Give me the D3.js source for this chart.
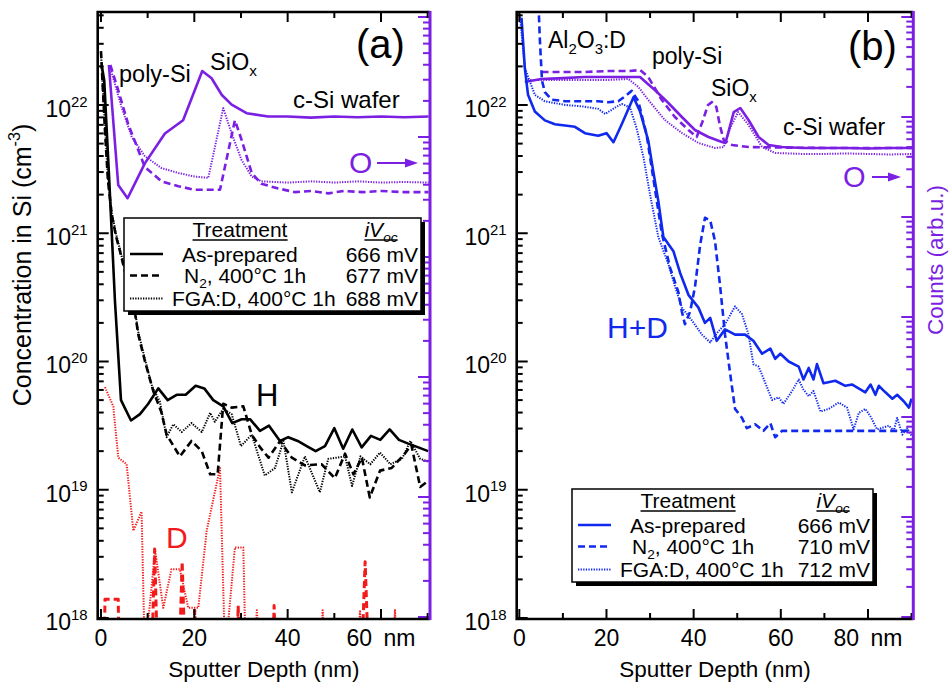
<!DOCTYPE html>
<html>
<head>
<meta charset="utf-8">
<script src="https://cdn.jsdelivr.net/npm/d3@7"></script>
<style>
  body { margin: 0; background: #fff; }
  svg { display: block; }
  text { font-family: 'Liberation Sans', Arial, Helvetica, sans-serif; }
</style>
</head>
<body>
<svg id="chart" width="949" height="684"></svg>
<script>
// ---- data: [depth (nm), concentration (cm^-3)] or [depth (nm), counts (arb.u.)] ----

// panel (a) : H (black), D (red), O (purple, right axis)
const aH_asPrepared = [[0.2,2.0e22],[0.7,1.55e22],[1.78,2.57e21],[3.0,2.95e20],[4.29,5.0e19],[6.43,3.47e19],[8.36,3.89e19],[10.13,4.68e19],[12.28,6.17e19],[14.29,5.0e19],[16.22,5.5e19],[18.15,5.5e19],[20.29,6.46e19],[22.13,6.17e19],[24.06,5.0e19],[26.2,4.47e19],[28.13,3.31e19],[30.15,3.55e19],[31.93,3.55e19],[34.07,2.88e19],[36.0,3.16e19],[38.36,2.4e19],[40.13,2.57e19],[42.15,2.4e19],[44.08,2.19e19],[46.0,2.0e19],[48.0,2.19e19],[50.0,3.02e19],[51.9,2.09e19],[53.85,2.95e19],[55.86,2.14e19],[57.85,2.63e19],[59.85,2.45e19],[61.86,2.95e19],[63.85,2.45e19],[65.85,2.29e19],[68.0,2.14e19],[70.1,2.0e19]];
const aH_N2 = [[0.0,2.63e22],[0.43,1.29e22],[0.86,6.31e21],[1.5,2.57e21],[2.29,1.41e21],[3.2,9.55e20],[4.07,7.24e20],[5.36,4.68e20],[6.92,2.95e20],[8.0,1.62e20],[9.43,1.0e20],[11.2,5.89e19],[12.9,4.07e19],[14.07,2.69e19],[16.9,1.82e19],[19.4,2.4e19],[21.6,2.0e19],[23.4,1.32e19],[25.0,1.32e19],[26.2,4.68e19],[28.0,4.37e19],[30.5,4.47e19],[32.3,2.69e19],[34.1,2.14e19],[35.9,1.78e19],[38.4,2.4e19],[40.9,1.78e19],[43.7,1.55e19],[47.3,1.58e19],[50.1,1.23e19],[52.3,1.91e19],[54.1,1.32e19],[55.9,1.78e19],[57.6,8.71e18],[59.8,1.41e19],[62.3,1.48e19],[65.1,1.91e19],[66.5,2.24e19],[68.4,1.05e19],[70.1,1.17e19]];
const aH_FGA = [[0.0,2.6e22],[0.4,1.35e22],[0.9,6.5e21],[1.5,2.7e21],[2.3,1.45e21],[3.2,1.0e21],[4.1,7.4e20],[5.4,4.8e20],[6.9,3.0e20],[8.0,1.7e20],[9.4,1.05e20],[11.0,6.3e19],[12.6,4.9e19],[14.07,2.57e19],[15.5,3.24e19],[17.3,2.82e19],[19.4,3.31e19],[21.6,2.82e19],[23.4,3.98e19],[24.4,3.39e19],[26.2,4.27e19],[28.0,3.89e19],[30.0,2.19e19],[32.3,2.69e19],[35.1,1.29e19],[37.3,1.48e19],[39.1,2.4e19],[40.9,9.55e18],[43.7,1.82e19],[46.9,9.55e18],[48.7,1.74e19],[52.3,1.82e19],[53.8,1.07e19],[55.6,1.82e19],[57.7,1.58e19],[59.8,1.95e19],[62.0,1.58e19],[64.5,1.74e19],[66.3,2.4e19],[68.4,1.74e19],[70.1,1.66e19]];
const aD_N2 = [[0.7,5e17],[0.86,1.4e18],[3.7,1.4e18],[3.86,5e17],[10.9,5e17],[11.5,3.45e18],[12.1,5e17],[16.8,5e17],[17.4,2.75e18],[18.0,5e17],[19.8,5e17],[20.1,1.15e18],[20.4,5e17],[29.1,5e17],[29.4,1.25e18],[29.7,5e17],[36.8,5e17],[37.1,1.25e18],[37.4,5e17],[55.9,5e17],[56.6,2.75e18],[57.3,5e17]];
const aD_FGA = [[0.86,6.31e19],[2.64,4.47e19],[3.71,1.78e19],[5.5,1.58e19],[6.93,4.79e18],[8.7,6.76e18],[9.4,5e17],[11.6,3.39e18],[13.35,1.2e18],[15.1,2.4e18],[16.9,2.4e18],[18.7,1.2e18],[20.85,1.2e18],[22.65,4.79e18],[25.5,1.48e19],[26.6,5e17],[28.7,3.55e18],[30.5,3.55e18],[31.0,5e17],[32.8,5e17],[33.4,1.15e18],[34.0,5e17],[47.0,5e17],[47.5,1.15e18],[48.0,5e17],[55.0,5e17],[55.5,1.15e18],[56.0,5e17],[62.5,5e17],[63.0,1.15e18],[63.5,5e17],[70.5,5e17]];
const aO_asPrepared = [[1.7,3.98e4],[3.7,3.98e3],[5.7,3.09e3],[9.4,6.03e3],[13.7,1.07e4],[17.6,1.38e4],[21.7,3.55e4],[23.7,3.09e4],[25.9,2.24e4],[28.0,1.86e4],[31.2,1.58e4],[35.8,1.48e4],[40,1.48e4],[45,1.45e4],[50,1.48e4],[55,1.46e4],[60,1.48e4],[65,1.46e4],[70.2,1.48e4]];
const aO_N2 = [[2.0,3.98e4],[3.7,2.45e4],[5.8,1.29e4],[9.4,5.62e3],[13.0,4.27e3],[16.6,3.89e3],[20.1,3.63e3],[25.5,3.63e3],[28.7,1.38e4],[30.1,9.55e3],[32.3,5.01e3],[34.4,4.07e3],[38.0,3.72e3],[41.6,3.47e3],[45,3.55e3],[48.7,3.39e3],[52,3.55e3],[56,3.47e3],[60,3.55e3],[65,3.47e3],[70.2,3.47e3]];
const aO_FGA = [[1.9,3.89e4],[4.4,1.78e4],[6.6,1.0e4],[9.4,6.92e3],[13,5.5e3],[16.6,5.01e3],[20.1,4.68e3],[23.0,4.57e3],[26.2,1.74e4],[28.0,1.07e4],[30.1,6.46e3],[32.3,4.68e3],[34.4,4.27e3],[40,4.17e3],[45,4.27e3],[50,4.17e3],[55,4.27e3],[60,4.17e3],[65,4.22e3],[70.2,4.17e3]];

// panel (b) : H+D (blue), O (purple, right axis)
const bHD_asPrepared = [[0.5,4.79e22],[1.26,1.95e22],[2.0,1.2e22],[3.56,8.91e21],[5.86,7.59e21],[8.16,7.08e21],[10.5,6.92e21],[12.76,6.76e21],[15.06,6.03e21],[18.1,5.75e21],[20.0,6.03e21],[21.6,5.13e21],[23.5,7.08e21],[26.2,1.15e22],[27.7,8.91e21],[29.6,5.25e21],[30.7,3.09e21],[31.9,1.78e21],[33.06,9.33e20],[35.36,7.24e20],[36.9,4.9e20],[38.8,3.31e20],[41.1,2.63e20],[42.6,2.0e20],[43.8,2.19e20],[45.3,1.45e20],[47.2,1.78e20],[49.5,1.62e20],[51.8,1.62e20],[53.7,1.45e20],[55.7,1.15e20],[57.6,1.26e20],[58.7,1.05e20],[59.9,1.15e20],[61.8,1.0e20],[64.1,9.12e19],[65.2,7.24e19],[66.4,8.91e19],[67.5,7.24e19],[68.3,9.55e19],[69.8,6.76e19],[72.5,7.08e19],[74.8,6.46e19],[76.4,6.61e19],[79.4,5.75e19],[80.6,6.61e19],[81.7,5.5e19],[82.5,6.46e19],[84.0,5.75e19],[85.6,5.13e19],[86.7,5.5e19],[88.2,4.9e19],[89.4,4.37e19],[90.0,5.13e19]];
const bHD_N2 = [[4.5,5.0e22],[4.7,3.31e22],[5.2,1.55e22],[5.86,1.26e22],[7.4,1.1e22],[10.5,1.07e22],[14.3,1.07e22],[18.1,1.07e22],[20.4,1.05e22],[22.7,1.07e22],[24.3,1.17e22],[25.8,1.29e22],[27.3,1.07e22],[29.2,5.89e21],[31.1,2.24e21],[32.7,1.0e21],[34.6,5.37e20],[36.5,3.47e20],[37.3,2.45e20],[38.0,1.95e20],[39.2,2.45e20],[40.3,3.8e20],[41.5,8.13e20],[42.6,1.32e21],[43.8,1.26e21],[44.9,8.71e20],[46.1,3.8e20],[47.2,1.62e20],[48.4,7.94e19],[49.5,4.27e19],[51.1,3.63e19],[52.2,3.02e19],[54.1,3.24e19],[56.0,2.88e19],[57.6,3.31e19],[58.7,2.57e19],[60.3,2.88e19],[70,2.88e19],[80,2.88e19],[90.2,2.88e19]];
const bHD_FGA = [[0.1,5.13e22],[1.26,1.95e22],[3.56,1.2e22],[5.86,1.07e22],[10.5,1.0e22],[14.3,9.77e21],[18.1,9.33e21],[19.7,8.51e21],[22.0,9.55e21],[23.5,1.02e22],[25.4,9.55e21],[26.9,6.61e21],[28.5,3.89e21],[30.0,2.0e21],[31.9,9.33e20],[34.2,5.75e20],[35.7,3.89e20],[37.3,2.63e20],[39.6,2.09e20],[41.9,1.62e20],[43.8,1.41e20],[45.3,1.66e20],[47.2,1.95e20],[49.5,2.69e20],[51.1,2.34e20],[52.6,1.62e20],[53.7,9.55e19],[54.9,9.12e19],[56.0,7.41e19],[58.0,5.01e19],[59.5,5.25e19],[60.6,4.68e19],[62.6,5.89e19],[64.1,7.24e19],[65.2,6.03e19],[66.4,5.37e19],[67.5,5.89e19],[69.1,4.07e19],[71.0,4.27e19],[73.3,4.79e19],[75.2,4.37e19],[76.7,2.95e19],[77.9,3.98e19],[79.4,4.27e19],[80.6,3.72e19],[82.1,2.95e19],[84.8,3.16e19],[85.9,2.88e19],[86.7,3.63e19],[87.9,2.69e19],[89.0,3.02e19],[90.0,2.63e19]];
const bO_asPrepared = [[1.26,2.24e5],[5,2.4e5],[10,2.45e5],[15,2.51e5],[20,2.51e5],[25,2.51e5],[27.7,2.51e5],[29.5,2.14e5],[31.1,1.86e5],[34.2,1.38e5],[37.3,1.0e5],[40.3,7.41e4],[43.4,6.31e4],[46.5,5.62e4],[47.3,5.5e4],[49.2,1.12e5],[50.7,1.23e5],[52.6,9.33e4],[54.9,6.31e4],[57.2,5.25e4],[60.3,5.01e4],[65,4.9e4],[70,4.9e4],[75,4.9e4],[80,4.84e4],[85,4.9e4],[90.2,4.9e4]];
const bO_N2 = [[5.1,2.82e5],[10,2.82e5],[15,2.82e5],[20,2.88e5],[25,2.88e5],[27.7,2.95e5],[29.6,2.51e5],[32.7,1.48e5],[35.7,1.0e5],[38.8,7.41e4],[40.7,6.31e4],[42.0,8.91e4],[43.3,1.32e5],[44.2,1.41e5],[45.2,1.26e5],[46.0,8.32e4],[46.9,5.89e4],[48.8,5.25e4],[52.6,5.01e4],[60,4.95e4],[70,4.9e4],[80,4.9e4],[90.2,4.9e4]];
const bO_FGA = [[1.3,2.34e5],[5,2.34e5],[10,2.34e5],[15,2.34e5],[20,2.34e5],[25.0,2.4e5],[27.3,2.0e5],[29.6,1.48e5],[33.4,9.33e4],[37.3,6.92e4],[41.1,5.5e4],[44.9,4.9e4],[46.9,5.01e4],[48.5,7.94e4],[50.2,1.12e5],[52.6,8.32e4],[55.7,5.01e4],[58.7,4.37e4],[65,4.27e4],[70,4.27e4],[75,4.32e4],[80,4.27e4],[85,4.22e4],[90.2,4.27e4]];

// legend content
const treatments = ["As-prepared", "N2, 400°C 1h", "FGA:D, 400°C 1h"];
const aIVoc = [666, 677, 688];
const bIVoc = [666, 710, 712];

// tick labels
const yDecades = [18, 19, 20, 21, 22];
const aXTicks = [0, 20, 40, 60];
const bXTicks = [0, 20, 40, 60, 80];

// ---- drawing ----
const svg = d3.select("#chart");
const PURPLE = "#7b1fe2", BLUE = "#1029ee", RED = "#f21a1a", BLACK = "#000";
const TOP = 12, BOTTOM = 619;
const STYLES = {
  solid:  { dash: null,      w: 2.6 },
  dashed: { dash: "7,4",     w: 2.6 },
  dotted: { dash: "1.3,1.3", w: 2.0 }
};
const rowStyles = ["solid", "dashed", "dotted"];

function rich(g, x, y, parts, size, color, anchor) {
  const t = g.append("text").attr("x", x).attr("y", y)
    .attr("font-size", size).attr("fill", color)
    .attr("text-anchor", anchor || "start");
  let shift = 0;
  parts.forEach(p => {
    const target = p.sub ? size * 0.25 : p.sup ? -size * 0.45 : 0;
    const s = t.append("tspan").attr("dy", target - shift).text(p.t);
    if (p.sub || p.sup) s.attr("font-size", size * 0.65);
    if (p.italic) s.attr("font-style", "italic");
    shift = target;
  });
  return t;
}

function panel(cfg) {
  const g = svg.append("g");
  const x = d3.scaleLinear().domain(cfg.xDomain).range([cfg.left, cfg.right]);
  const y = d3.scaleLog().domain([1e18, 5.31e22]).range([618, TOP]);
  const yR = d3.scaleLog().domain([1, cfg.countsMax]).range([617, 17]);

  const clipId = "clip" + cfg.name;
  g.append("clipPath").attr("id", clipId).append("rect")
    .attr("x", cfg.left).attr("y", TOP)
    .attr("width", cfg.right - cfg.left).attr("height", BOTTOM - TOP);

  const lines = g.append("g").attr("clip-path", `url(#${clipId})`);
  cfg.series.forEach(s => {
    const sc = s.right ? yR : y;
    const st = STYLES[s.style];
    lines.append("path")
      .attr("d", d3.line().x(d => x(d[0])).y(d => sc(d[1]))(s.data))
      .attr("fill", "none")
      .attr("stroke", s.color)
      .attr("stroke-width", s.w || st.w)
      .attr("stroke-dasharray", st.dash)
      .attr("stroke-linejoin", "round");
  });

  // left ticks (inward)
  const ticks = g.append("g");
  yDecades.forEach(e => {
    for (let m = 1; m <= 9; m++) {
      const v = m * Math.pow(10, e);
      if (y(v) < TOP) continue;
      ticks.append("line").attr("x1", cfg.left).attr("x2", cfg.left + (m === 1 ? 11 : 6))
        .attr("y1", y(v)).attr("y2", y(v)).attr("stroke", BLACK).attr("stroke-width", 2);
    }
    rich(g, cfg.left - 10, y(Math.pow(10, e)) + 12,
      [{ t: "10" }, { t: String(e), sup: true }], 23, BLACK, "end");
  });

  // right ticks (purple, inward)
  for (let e = 0; e <= 6; e++) {
    for (let m = 1; m <= 9; m++) {
      const v = m * Math.pow(10, e);
      if (yR(v) < TOP) continue;
      ticks.append("line").attr("x1", cfg.right).attr("x2", cfg.right - (m === 1 ? 12 : 7))
        .attr("y1", yR(v)).attr("y2", yR(v)).attr("stroke", PURPLE).attr("stroke-width", 2);
    }
  }

  // bottom and top ticks
  for (let t = 0; t <= cfg.xDomain[1]; t += 10) {
    const len = t % 20 === 0 ? 10 : 6;
    ticks.append("line").attr("x1", x(t)).attr("x2", x(t))
      .attr("y1", BOTTOM).attr("y2", BOTTOM - len).attr("stroke", BLACK).attr("stroke-width", 2);
    ticks.append("line").attr("x1", x(t)).attr("x2", x(t))
      .attr("y1", TOP).attr("y2", TOP + len).attr("stroke", BLACK).attr("stroke-width", 2);
  }
  cfg.xTicks.forEach((t, i) => {
    g.append("text").attr("x", x(t)).attr("y", 646).attr("text-anchor", "middle")
      .attr("font-size", 23).text(i === cfg.xTicks.length - 1 ? `${t}\u2002nm` : t);
  });
  g.append("text").attr("x", (cfg.left + cfg.right) / 2).attr("y", 677)
    .attr("text-anchor", "middle").attr("font-size", 22.5).text("Sputter Depth (nm)");

  // frame
  g.append("path").attr("d", `M${cfg.right},${TOP}H${cfg.left}V${BOTTOM}H${cfg.right}`)
    .attr("fill", "none").attr("stroke", BLACK).attr("stroke-width", 2.6);
  g.append("line").attr("x1", cfg.right).attr("x2", cfg.right).attr("y1", TOP - 1).attr("y2", BOTTOM + 1)
    .attr("stroke", PURPLE).attr("stroke-width", 3);

  return { g, x, y };
}

function legend(g, x0, y0, w, color, ivoc) {
  const h = 93;
  g.append("rect").attr("x", x0 + 4).attr("y", y0 + 4).attr("width", w).attr("height", h).attr("fill", BLACK);
  g.append("rect").attr("x", x0).attr("y", y0).attr("width", w).attr("height", h)
    .attr("fill", "#fff").attr("stroke", BLACK).attr("stroke-width", 1.5);
  const head = g.append("text").attr("x", x0 + 116).attr("y", y0 + 19).attr("text-anchor", "middle")
    .attr("font-size", 21).text("Treatment");
  const iv = rich(g, x0 + w - 40, y0 + 19,
    [{ t: "iV", italic: true }, { t: "oc", sub: true, italic: true }], 21, BLACK, "middle");
  [head, iv].forEach(t => {
    const b = t.node().getBBox();
    g.append("line").attr("x1", b.x).attr("x2", b.x + b.width)
      .attr("y1", y0 + 22).attr("y2", y0 + 22).attr("stroke", BLACK).attr("stroke-width", 1.3);
  });
  const rowY = [36, 57.5, 80.5];
  const nameX = [58, 60, 48];
  treatments.forEach((name, i) => {
    const cy = y0 + rowY[i];
    const st = STYLES[rowStyles[i]];
    g.append("line").attr("x1", x0 + 6).attr("x2", x0 + 39).attr("y1", cy).attr("y2", cy)
      .attr("stroke", color).attr("stroke-width", st.w).attr("stroke-dasharray", st.dash);
    const parts = name.startsWith("N2")
      ? [{ t: "N" }, { t: "2", sub: true }, { t: name.slice(2) }]
      : [{ t: name }];
    rich(g, x0 + nameX[i], cy + 7.5, parts, 21, BLACK, "start");
    g.append("text").attr("x", x0 + w - 3).attr("y", cy + 7.5).attr("text-anchor", "end")
      .attr("font-size", 21).text(`${ivoc[i]} mV`);
  });
}

function arrow(g, x1, x2, yy, color) {
  g.append("line").attr("x1", x1).attr("x2", x2 - 10).attr("y1", yy).attr("y2", yy)
    .attr("stroke", color).attr("stroke-width", 2);
  g.append("path").attr("d", `M${x2},${yy}L${x2 - 13},${yy - 4.5}L${x2 - 13},${yy + 4.5}Z`).attr("fill", color);
}

// panel (a)
const A = panel({
  name: "A", left: 97.7, right: 430, xDomain: [-0.7, 70.5], countsMax: 1e5, xTicks: aXTicks,
  series: [
    { data: aO_asPrepared, right: true, color: PURPLE, style: "solid" },
    { data: aO_N2, right: true, color: PURPLE, style: "dashed" },
    { data: aO_FGA, right: true, color: PURPLE, style: "dotted" },
    { data: aD_FGA, color: RED, style: "dotted" },
    { data: aD_N2, color: RED, style: "dashed", w: 3 },
    { data: aH_FGA, color: BLACK, style: "dotted" },
    { data: aH_N2, color: BLACK, style: "dashed" },
    { data: aH_asPrepared, color: BLACK, style: "solid" }
  ]
});
legend(A.g, 124, 218, 297, BLACK, aIVoc);
rich(A.g, 119, 82, [{ t: "poly-Si" }], 23.5, BLACK);
rich(A.g, 210, 70, [{ t: "SiO" }, { t: "x", sub: true }], 23.5, BLACK);
rich(A.g, 293, 108, [{ t: "c-Si wafer" }], 24, BLACK);
rich(A.g, 356, 58, [{ t: "(a)" }], 40, BLACK);
rich(A.g, 349, 173, [{ t: "O" }], 30, PURPLE);
arrow(A.g, 377, 418, 163, PURPLE);
rich(A.g, 256, 406, [{ t: "H" }], 31, BLACK);
rich(A.g, 166, 548, [{ t: "D" }], 30, RED);

// panel (b)
const B = panel({
  name: "B", left: 516.7, right: 913.3, xDomain: [-0.6, 90.4], countsMax: 1e6, xTicks: bXTicks,
  series: [
    { data: bO_asPrepared, right: true, color: PURPLE, style: "solid" },
    { data: bO_N2, right: true, color: PURPLE, style: "dashed" },
    { data: bO_FGA, right: true, color: PURPLE, style: "dotted" },
    { data: bHD_FGA, color: BLUE, style: "dotted" },
    { data: bHD_N2, color: BLUE, style: "dashed" },
    { data: bHD_asPrepared, color: BLUE, style: "solid" }
  ]
});
legend(B.g, 572, 489, 301, BLUE, bIVoc);
rich(B.g, 548, 48, [{ t: "Al" }, { t: "2", sub: true }, { t: "O" }, { t: "3", sub: true }, { t: ":D" }], 23, BLACK);
rich(B.g, 652, 64, [{ t: "poly-Si" }], 23, BLACK);
rich(B.g, 711, 96, [{ t: "SiO" }, { t: "x", sub: true }], 23, BLACK);
rich(B.g, 783, 135, [{ t: "c-Si wafer" }], 23, BLACK);
rich(B.g, 848, 60, [{ t: "(b)" }], 40, BLACK);
rich(B.g, 843, 187, [{ t: "O" }], 29, PURPLE);
arrow(B.g, 872, 901, 177, PURPLE);
rich(B.g, 607, 338, [{ t: "H+D" }], 30, BLUE);

// axis titles
rich(svg, 0, 0, [{ t: "Concentration in Si (cm" }, { t: "-3", sup: true }, { t: ")" }], 25, BLACK, "middle")
  .attr("transform", "translate(31,265) rotate(-90)");
rich(svg, 0, 0, [{ t: "Counts (arb.u.)" }], 22.5, PURPLE, "middle")
  .attr("transform", "translate(943,260) rotate(-90)");
</script>
</body>
</html>
